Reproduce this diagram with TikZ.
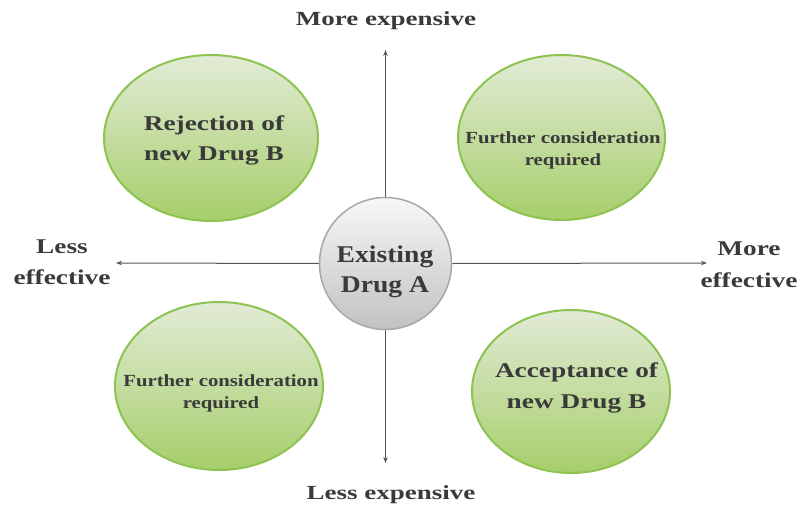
\documentclass[tikz,border=0pt]{standalone}
\usepackage{fontspec}
\setmainfont{Liberation Serif}
\usetikzlibrary{shapes.geometric,arrows.meta}
\definecolor{ovaltop}{HTML}{E2EBD6}
\definecolor{ovalbot}{HTML}{A6CE6A}
\definecolor{ovalborder}{HTML}{8DC350}
\definecolor{circtop}{HTML}{F7F7F7}
\definecolor{circbot}{HTML}{C2C2C2}
\definecolor{circborder}{HTML}{A8A8A8}
\definecolor{txt}{HTML}{3A3A3A}
\definecolor{axis}{HTML}{555555}
\newcommand{\lbl}[4]{\scalebox{#1}[1]{\fontsize{#2}{#3}\selectfont\bfseries\begin{tabular}{@{}c@{}}#4\end{tabular}}}
\begin{document}
\begin{tikzpicture}[x=1pt,y=-1pt,
  oval/.style={ellipse, draw=ovalborder, line width=2pt, top color=ovaltop, bottom color=ovalbot, inner sep=0pt},
  hub/.style={circle, draw=circborder, line width=1.5pt, top color=circtop, bottom color=circbot, inner sep=0pt, minimum size=132pt},
  txtnode/.style={inner sep=0pt, text=txt},
  axisline/.style={draw=axis, line width=1pt, -{Stealth[length=6pt,width=4.5pt]}}]
\useasboundingbox (0,0) rectangle (801,506);

% ovals
\node[oval, minimum width=214pt, minimum height=166pt] (tl) at (211,138) {};
\node[oval, minimum width=207pt, minimum height=165pt] (tr) at (561.5,137.5) {};
\node[oval, minimum width=208pt, minimum height=168pt] (bl) at (219,386) {};
\node[oval, minimum width=198pt, minimum height=163pt] (br) at (571,391.5) {};

% axis end points
\coordinate (ytop) at (385.5,50);
\coordinate (ybot) at (385.5,463);
\coordinate (xleft) at (116,263);
\coordinate (xright) at (707,263);

% hub
\node[hub] (hub) at (385.5,263.5) {};

\draw[axisline] (hub.north) -- (ytop);
\draw[axisline] (hub.south) -- (ybot);
\draw[axisline] (hub.west) -- (xleft);
\draw[axisline] (hub.east) -- (xright);

% texts
\node[txtnode] (hubtxt) at (385,271) {\lbl{1.15}{24}{30}{Existing\\Drug A}};
\node[txtnode] (tltxt) at (214,139) {\lbl{1.3}{21}{30}{Rejection of\\new Drug B}};
\node[txtnode] (brtxt) at (576.5,386.3) {\lbl{1.3}{21}{31}{Acceptance of\\new Drug B}};
\node[txtnode] (trtxt) at (563,149.6) {\lbl{1.22}{17}{22}{Further consideration\\required}};
\node[txtnode] (bltxt) at (221,392.6) {\lbl{1.22}{17}{22}{Further consideration\\required}};

\node[txtnode] (moreexp) at (386,21) {\lbl{1.35}{20}{24}{More expensive}};
\node[txtnode] (lessexp) at (391,495) {\lbl{1.35}{20}{24}{Less expensive}};
\node[txtnode] (lesseff) at (62,262.3) {\lbl{1.3}{21}{31}{Less\\effective}};
\node[txtnode] (moreeff) at (749,264.6) {\lbl{1.3}{21}{32}{More\\effective}};
\end{tikzpicture}
\end{document}
